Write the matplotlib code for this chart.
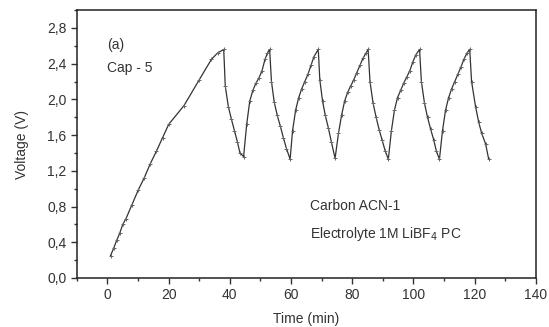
import matplotlib
matplotlib.use("Agg")
from matplotlib import pyplot as plt
from matplotlib.ticker import MultipleLocator, FuncFormatter

plt.rcParams['font.family'] = ['Liberation Sans', 'DejaVu Sans']

# first charge
t_first = [1, 2, 3, 4, 5, 6, 8, 10, 12, 14, 16, 18, 20, 25, 30, 34, 36, 38]
v_first = [0.25, 0.33, 0.42, 0.50, 0.60, 0.66, 0.82, 0.98, 1.12, 1.28, 1.42, 1.57, 1.72, 1.93, 2.22, 2.45, 2.52, 2.56]

# galvanostatic cycling (after first peak)
t_cyc = [38.5, 39.5, 40.5, 41.5, 42.5, 43.3, 44.5,
         45.5, 46.5, 47.5, 48.5, 49.5, 50.5, 51.5, 52.3, 53.0,
         53.6, 54.5, 55.5, 56.5, 57.5, 58.5, 59.7,
         60.5, 61.5, 62.5, 63.5, 64.5, 65.5, 66.5, 67.5, 68.9,
         69.4, 70.3, 71.2, 72.2, 73.2, 74.4,
         75.5, 76.5, 77.5, 78.5, 79.5, 80.5, 81.5, 82.5, 83.5, 84.5, 85.2,
         85.8, 86.8, 87.8, 88.8, 89.8, 90.8, 91.8,
         92.8, 93.8, 94.8, 95.8, 96.8, 97.8, 98.8, 99.8, 100.8, 102.0,
         102.6, 103.6, 104.6, 105.6, 106.6, 107.5, 108.5,
         109.5, 110.5, 111.5, 112.5, 113.5, 114.5, 115.5, 116.5, 117.5, 118.4,
         119.0, 120.3, 121.3, 122.3, 123.6, 124.6]
v_cyc = [2.15, 1.92, 1.78, 1.65, 1.52, 1.40, 1.36,
         1.72, 1.98, 2.10, 2.18, 2.24, 2.32, 2.45, 2.52, 2.56,
         2.20, 1.97, 1.82, 1.70, 1.57, 1.45, 1.33,
         1.65, 1.88, 2.02, 2.12, 2.20, 2.28, 2.38, 2.48, 2.56,
         2.22, 1.98, 1.82, 1.68, 1.52, 1.34,
         1.62, 1.82, 1.98, 2.08, 2.15, 2.22, 2.30, 2.38, 2.46, 2.52, 2.56,
         2.20, 1.96, 1.80, 1.66, 1.54, 1.42, 1.33,
         1.65, 1.88, 2.02, 2.10, 2.18, 2.25, 2.32, 2.42, 2.50, 2.56,
         2.20, 1.96, 1.80, 1.67, 1.55, 1.42, 1.33,
         1.65, 1.88, 2.02, 2.12, 2.20, 2.28, 2.36, 2.45, 2.52, 2.56,
         2.20, 1.92, 1.75, 1.62, 1.50, 1.33]

t = t_first + t_cyc
v = v_first + v_cyc

fig = plt.figure(figsize=(5.49, 3.27), dpi=100)
ax = fig.add_axes([0.140, 0.150, 0.836, 0.819])

ax.plot(t, v, color='#333333', lw=0.9, marker='+', ms=3.5, mec='#666666', mew=0.7)

ax.set_xlim(-10, 140)
ax.set_ylim(0, 3.0)
ax.xaxis.set_major_locator(MultipleLocator(20))
ax.xaxis.set_minor_locator(MultipleLocator(10))
ax.yaxis.set_major_locator(MultipleLocator(0.4))
ax.yaxis.set_minor_locator(MultipleLocator(0.2))
ax.yaxis.set_major_formatter(FuncFormatter(lambda y, p: ('%.1f' % y).replace('.', ',')))
ax.tick_params(which='major', direction='out', length=4, width=1, labelsize=10, colors='#333333')
ax.tick_params(which='minor', direction='out', length=2.5, width=1, colors='#333333')
for s in ax.spines.values():
    s.set_color('#222222')
    s.set_linewidth(1.1)

ax.set_xlabel('Time (min)', fontsize=10, color='#333333', labelpad=7)
ax.set_ylabel('Voltage (V)', fontsize=10, color='#333333', labelpad=13)

ax.text(0, 2.61, '(a)', fontsize=10, color='#333333', va='center')
ax.text(0, 2.35, 'Cap - 5', fontsize=10, color='#333333', va='center')
ax.text(0.508, 0.27, 'Carbon ACN-1', transform=ax.transAxes, fontsize=10, color='#333333', va='center')
ax.text(0.508, 0.165, 'Electrolyte 1M LiBF$_4$ PC', transform=ax.transAxes, fontsize=10, color='#333333', va='center')

fig.savefig('out.png', dpi=100)
